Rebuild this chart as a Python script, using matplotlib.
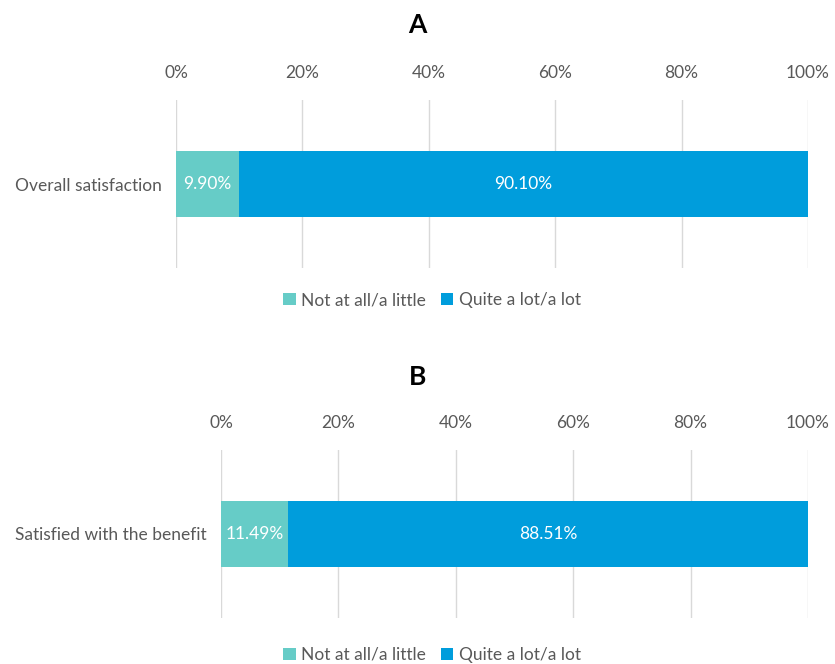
import matplotlib
matplotlib.use("Agg")
import matplotlib.pyplot as plt
from matplotlib.patches import Patch

plt.rcParams['font.family'] = ['Lato', 'DejaVu Sans']

# data
series_names = ["Not at all/a little", "Quite a lot/a lot"]
colors = ["#66CCC7", "#009DDC"]
panel_titles = ["A", "B"]
categories = ["Overall satisfaction", "Satisfied with the benefit"]
low_vals = [9.90, 11.49]
high_vals = [90.10, 88.51]
ticks = [0, 20, 40, 60, 80, 100]

grey = "#595959"
fs = 12.5

fig = plt.figure(figsize=(8.35, 6.64), dpi=100)

# axes rects [left, bottom, width, height]
rects = [[176 / 835, 1 - 268 / 664, 632 / 835, 168 / 664],
         [221 / 835, 1 - 618 / 664, 587 / 835, 168 / 664]]
title_y = [1 - 25 / 664, 1 - 377 / 664]
legend_y = [1 - 300 / 664, 1 - 655 / 664]

for i in range(2):
    ax = fig.add_axes(rects[i])
    lo, hi = low_vals[i], high_vals[i]
    ax.barh([0], [lo], height=0.774, color=colors[0], zorder=3)
    ax.barh([0], [hi], left=[lo], height=0.774, color=colors[1], zorder=3)
    ax.text(lo / 2, 0, f"{lo:.2f}%", ha="center", va="center", color="white", fontsize=fs, zorder=4)
    ax.text(lo + hi / 2, 0, f"{hi:.2f}%", ha="center", va="center", color="white", fontsize=fs, zorder=4)
    ax.set_xlim(0, 100)
    ax.set_ylim(-1, 1)
    ax.set_xticks(ticks)
    ax.set_xticklabels([f"{t}%" for t in ticks], color=grey, fontsize=fs)
    ax.xaxis.tick_top()
    ax.tick_params(axis="x", length=0, pad=14)
    ax.set_yticks([0])
    ax.set_yticklabels([categories[i]], color=grey, fontsize=fs)
    ax.tick_params(axis="y", length=0, pad=10)
    ax.grid(axis="x", color="#D9D9D9", linewidth=1, zorder=0)
    for s in ax.spines.values():
        s.set_visible(False)

    fig.text(0.5, title_y[i], panel_titles[i], ha="center", va="center",
             fontsize=19, fontweight="bold", color="black")

    handles = [Patch(facecolor=c, edgecolor="none") for c in colors]
    fig.legend(handles, series_names, loc="center", bbox_to_anchor=(432 / 835, legend_y[i]),
               ncol=2, frameon=False, fontsize=fs, labelcolor=grey,
               handlelength=0.7, handleheight=0.7, handletextpad=0.3, columnspacing=0.9)

fig.savefig("out.png", dpi=100)
